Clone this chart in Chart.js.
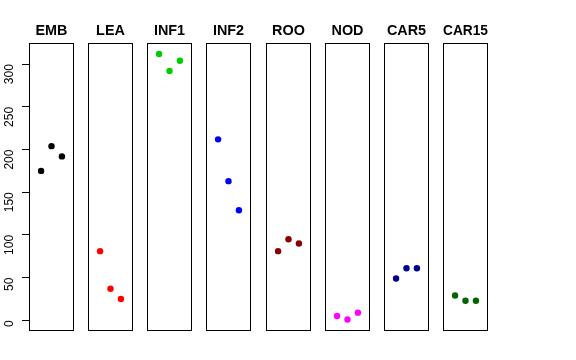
<!DOCTYPE html>
<html>
<head>
<meta charset="utf-8">
<script src="https://cdn.jsdelivr.net/npm/chart.js@4/dist/chart.umd.min.js"></script>
<style>
  html, body { margin: 0; padding: 0; background: #fff; }
  #wrap { position: relative; width: 576px; height: 360px; overflow: hidden; }
  .panel { position: absolute; top: 0; height: 360px; }
</style>
</head>
<body>
<div id="wrap"></div>
<script>
// -----------------------------
// Data
// -----------------------------
const categories = ['EMB', 'LEA', 'INF1', 'INF2', 'ROO', 'NOD', 'CAR5', 'CAR15'];
const replicates = [1, 2, 3];

const embValues = [175, 204, 192];
const leaValues = [81, 37, 25];
const inf1Values = [312, 292, 304];
const inf2Values = [212, 163, 129];
const rooValues = [81, 95, 90];
const nodValues = [5, 1, 9];
const car5Values = [49, 61, 61];
const car15Values = [29, 23, 23];

const seriesValues = [embValues, leaValues, inf1Values, inf2Values, rooValues, nodValues, car5Values, car15Values];
const seriesColors = ['#000000', '#FF0000', '#00CD00', '#0000FF', '#8B0000', '#FF00FF', '#00008B', '#006400'];
const yTicks = [0, 50, 100, 150, 200, 250, 300];

// -----------------------------
// Layout (panel boxes like R mfrow)
// -----------------------------
const firstLeft = 29;
const panelStep = 59.14;
const panelWidth = 45;
const sidePad = 7;
const yAxisWidth = 29;

const yMin = -12.5, yMax = 324.5;
const xMin = -0.16, xMax = 4.16;

// box around each plot region
const boxPlugin = {
    id: 'box',
    afterDraw(chart) {
        const a = chart.chartArea;
        const c = chart.ctx;
        c.save();
        c.strokeStyle = '#000';
        c.lineWidth = 1;
        c.strokeRect(Math.round(a.left) + 0.5, Math.round(a.top) + 0.5,
                     Math.round(a.right - a.left) - 1, Math.round(a.bottom - a.top) - 1);
        c.restore();
    }
};

function makePanel(i) {
    const withAxis = i === 0;
    // first canvas is symmetric round its panel (empty spacer axis on the right) so the title stays centred
    const left = withAxis ? 0 : Math.round(firstLeft + i * panelStep) - sidePad;
    const width = withAxis ? 2 * firstLeft + panelWidth : panelWidth + 2 * sidePad;
    const pad = withAxis ? 0 : sidePad;

    const canvas = document.createElement('canvas');
    canvas.className = 'panel';
    canvas.style.left = left + 'px';
    canvas.style.width = width + 'px';
    canvas.width = width;
    canvas.height = 360;
    document.getElementById('wrap').appendChild(canvas);

    const points = replicates.map((r, j) => ({ x: r, y: seriesValues[i][j] }));

    const scales = {
        x: {
            type: 'linear',
            min: xMin,
            max: xMax,
            display: false
        },
        y: {
            type: 'linear',
            min: yMin,
            max: yMax,
            display: withAxis,
            afterBuildTicks: (scale) => { scale.ticks = yTicks.map(v => ({ value: v })); },
            border: { display: false },
            grid: {
                drawOnChartArea: false,
                drawTicks: true,
                tickLength: 7,
                color: '#000',
                lineWidth: 1
            },
            ticks: {
                color: '#000',
                minRotation: 90,
                maxRotation: 90,
                padding: 12,
                font: { family: 'Liberation Sans, Arial, sans-serif', size: 12 }
            }
        }
    };
    if (withAxis) {
        scales.y.afterFit = (scale) => { scale.width = yAxisWidth; };
        scales.spacer = {
            type: 'linear',
            position: 'right',
            min: yMin,
            max: yMax,
            grid: { display: false },
            border: { display: false },
            ticks: { display: false },
            afterFit: (scale) => { scale.width = yAxisWidth; }
        };
    }

    new Chart(canvas.getContext('2d'), {
        type: 'scatter',
        data: {
            datasets: [{
                data: points,
                backgroundColor: seriesColors[i],
                borderColor: seriesColors[i],
                pointRadius: 3.2,
                pointHoverRadius: 3.2,
                borderWidth: 0
            }]
        },
        options: {
            responsive: false,
            animation: false,
            events: [],
            layout: {
                padding: { left: pad, right: pad, top: 0, bottom: 29 }
            },
            plugins: {
                legend: { display: false },
                tooltip: { enabled: false },
                title: {
                    display: true,
                    text: categories[i],
                    color: '#000',
                    font: { family: 'Liberation Sans, Arial, sans-serif', size: 14.4, weight: 'bold' },
                    padding: { top: 22, bottom: 4 }
                }
            },
            scales: scales
        },
        plugins: [boxPlugin]
    });
}

// -----------------------------
// Draw all panels
// -----------------------------
categories.forEach((_, i) => makePanel(i));
</script>
</body>
</html>
